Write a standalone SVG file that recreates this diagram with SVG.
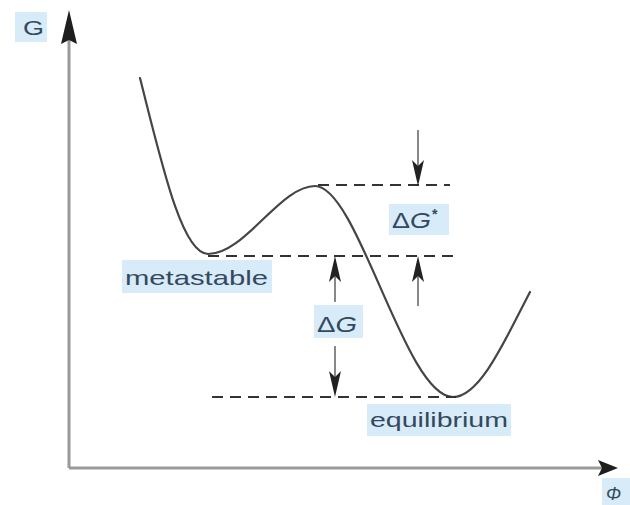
<svg xmlns="http://www.w3.org/2000/svg" width="630" height="505" viewBox="0 0 630 505">
<style>
.axis{stroke:#9a9a9a;stroke-width:3;fill:none}
.curve{stroke:#454545;stroke-width:2.2;fill:none;stroke-linecap:round}
.dash{stroke:#333;stroke-width:2.2;stroke-dasharray:11 7;fill:none}
.arr{stroke:#555;stroke-width:1.4;fill:none}
.head{fill:#222}
.bg{fill:#d8ebf8}
.lbl{font-family:"Liberation Sans",Arial,sans-serif;fill:#34495e}
</style>
<defs>
<path id="hdDown" class="head" d="M0,0 L-6,-26 L0,-20 L6,-26 Z"/>
<path id="hdUp" class="head" d="M0,0 L-6,26 L0,20 L6,26 Z"/>
</defs>
<g id="axes">
<path class="axis" d="M69,468 V36 M69,468 H606"/>
<path fill="#1e1e1e" d="M69,10 L61,44 L69,40 L77,44 Z"/>
<path fill="#1e1e1e" d="M618,468 L598,460 L602,468 L598,476 Z"/>
</g>
<g id="label-G">
<rect class="bg" x="15" y="12" width="32" height="30"/>
<text class="lbl" x="23" y="35" font-size="21" textLength="21" lengthAdjust="spacingAndGlyphs">G</text>
</g>
<g id="label-phi">
<rect class="bg" x="602" y="478" width="28" height="27"/>
<text class="lbl" x="606" y="500" font-size="18" font-style="italic">Φ</text>
</g>
<g id="curve">
<path class="curve" d="M140,78 C162,165 182,254 208,254 C245,254 280,186 315,186 C358,186 405,397 453,397 C480,397 505,340 530,292"/>
</g>
<g id="connectors">
<path class="dash" d="M318,185 H450"/>
<path class="dash" d="M208,256 H460"/>
<path class="dash" d="M212,397 H456"/>
<path class="arr" d="M418,130 V170"/>
<use href="#hdDown" x="418" y="186"/>
<path class="arr" d="M418,270 V306"/>
<use href="#hdUp" x="418" y="256"/>
<path class="arr" d="M335,270 V302"/>
<use href="#hdUp" x="335" y="256"/>
<path class="arr" d="M335,346 V382"/>
<use href="#hdDown" x="335" y="397"/>
</g>
<g id="label-dGstar">
<rect class="bg" x="389" y="204" width="60" height="31"/>
<text class="lbl" x="392" y="228" font-size="22" textLength="39" lengthAdjust="spacingAndGlyphs">Δ<tspan font-style="italic">G</tspan></text>
<text class="lbl" x="432" y="219" font-size="14" font-weight="bold">*</text>
</g>
<g id="label-dG">
<rect class="bg" x="314" y="305" width="49" height="33"/>
<text class="lbl" x="317" y="332" font-size="22" textLength="40" lengthAdjust="spacingAndGlyphs">Δ<tspan font-style="italic">G</tspan></text>
</g>
<g id="label-metastable">
<rect class="bg" x="122" y="260" width="150" height="33"/>
<text class="lbl" x="125" y="285" font-size="21" textLength="143" lengthAdjust="spacingAndGlyphs">metastable</text>
</g>
<g id="label-equilibrium">
<rect class="bg" x="367" y="404" width="144" height="32"/>
<text class="lbl" x="370" y="427" font-size="21" textLength="138" lengthAdjust="spacingAndGlyphs">equilibrium</text>
</g>
</svg>
